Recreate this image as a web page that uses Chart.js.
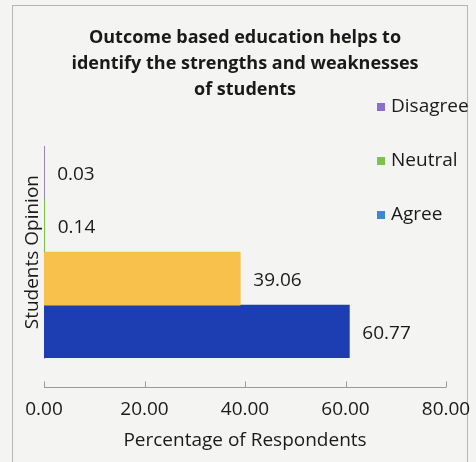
<!DOCTYPE html>
<html>
<head>
<meta charset="utf-8">
<script src="https://cdn.jsdelivr.net/npm/chart.js@4.4.0/dist/chart.umd.min.js"></script>
<style>
  html, body { margin: 0; padding: 0; background: #f4f4f2; }
  #wrap { width: 476px; height: 462px; position: relative; }
</style>
</head>
<body>
<div id="wrap"><canvas id="opinionChart"></canvas></div>
<script>
/* Chart data */
const categories = [''];
const seriesNames = ['Disagree', 'Neutral', 'Strongly Agree', 'Agree'];
const seriesValues = [0.03, 0.14, 39.06, 60.77];
const barColors = ['#7d5fc4', '#7cc14a', '#f8c14b', '#1d3eb3'];
const legendNames = ['Disagree', 'Neutral', 'Agree'];
const legendColors = ['#8b6fd0', '#7dc24b', '#3f85da'];
const xTicks = [0, 20, 40, 60, 80];

const FONT = "'Open Sans', sans-serif";
const TEXT = '#1a1a1a';

// frame of the chart box (scanned excel chart)
const framePlugin = {
    id: 'frame',
    beforeDraw(chart) {
        const ctx = chart.ctx;
        ctx.save();
        ctx.strokeStyle = '#b4b4b4';
        ctx.lineWidth = 1;
        ctx.strokeRect(12.5, 5.5, 455, 470);
        ctx.restore();
    }
};

// x axis drawn below the bars, tick marks pointing up
const axisPlugin = {
    id: 'lowAxis',
    afterDraw(chart) {
        const ctx = chart.ctx;
        const x = chart.scales.x;
        const y = 387.5;
        ctx.save();
        ctx.strokeStyle = '#9a9a9a';
        ctx.lineWidth = 1;
        ctx.beginPath();
        ctx.moveTo(x.getPixelForValue(xTicks[0]), y);
        ctx.lineTo(x.getPixelForValue(xTicks[xTicks.length - 1]), y);
        xTicks.forEach(v => {
            const px = Math.round(x.getPixelForValue(v)) + 0.5;
            ctx.moveTo(px, y);
            ctx.lineTo(px, y - 6);
        });
        ctx.stroke();
        ctx.restore();
    }
};

// value labels at the end of each bar
const valuePlugin = {
    id: 'values',
    afterDatasetsDraw(chart) {
        const ctx = chart.ctx;
        ctx.save();
        ctx.font = '19px ' + FONT;
        ctx.fillStyle = TEXT;
        ctx.textAlign = 'left';
        ctx.textBaseline = 'middle';
        chart.data.datasets.forEach((ds, i) => {
            chart.getDatasetMeta(i).data.forEach((bar, j) => {
                ctx.fillText(ds.data[j].toFixed(2), bar.x + 13, bar.y + 2);
            });
        });
        ctx.restore();
    }
};

// legend floating over the right side of the plot
const legendPlugin = {
    id: 'floatLegend',
    afterDraw(chart) {
        const ctx = chart.ctx;
        ctx.save();
        ctx.font = '19px ' + FONT;
        ctx.textBaseline = 'middle';
        legendNames.forEach((name, i) => {
            const y = 107 + i * 54;
            ctx.fillStyle = legendColors[i];
            ctx.fillRect(377, y - 4, 8, 8);
            ctx.fillStyle = TEXT;
            ctx.fillText(name, 391, y);
        });
        ctx.restore();
    }
};

const ctx = document.getElementById('opinionChart').getContext('2d');
new Chart(ctx, {
    type: 'bar',
    data: {
        labels: categories,
        datasets: seriesNames.map((name, i) => ({
            label: name,
            data: [seriesValues[i]],
            backgroundColor: barColors[i],
            borderWidth: 0,
            categoryPercentage: 1,
            barPercentage: 1
        }))
    },
    options: {
        indexAxis: 'y',
        responsive: true,
        maintainAspectRatio: false,
        animation: false,
        layout: { padding: { top: 5, left: 12, right: 30, bottom: 0 } },
        scales: {
            x: {
                min: 0,
                max: 80,
                afterBuildTicks: s => { s.ticks = xTicks.map(v => ({ value: v })); },
                ticks: {
                    callback: v => Number(v).toFixed(2),
                    padding: 0,
                    color: TEXT,
                    font: { family: FONT, size: 19 }
                },
                // hidden grid, tick length only pushes the labels down
                grid: { display: false, drawTicks: true, tickLength: 40 },
                border: { display: false },
                title: {
                    display: true,
                    text: 'Percentage of Respondents',
                    color: TEXT,
                    font: { family: FONT, size: 19 },
                    padding: { top: 0, bottom: 10 }
                },
                afterFit: s => { s.height = 104; s.paddingLeft = 0; s.paddingRight = 0; }
            },
            y: {
                ticks: { display: false },
                grid: { display: false, drawTicks: false },
                border: { display: true, color: '#a8a8a8' },
                title: {
                    display: true,
                    text: 'Students Opinion',
                    color: TEXT,
                    font: { family: FONT, size: 19 },
                    padding: { top: 9, bottom: 0 }
                },
                afterFit: s => { s.width = 32; }
            }
        },
        plugins: {
            legend: { display: false },
            tooltip: { enabled: false },
            title: {
                display: true,
                fullSize: false,
                text: ['Outcome based education helps to',
                       'identify the strengths and weaknesses',
                       'of students'],
                color: TEXT,
                font: { family: FONT, size: 18, weight: 'bold', lineHeight: 1.45 },
                padding: { top: 20, bottom: 43 }
            }
        }
    },
    plugins: [framePlugin, axisPlugin, valuePlugin, legendPlugin]
});
</script>
</body>
</html>
